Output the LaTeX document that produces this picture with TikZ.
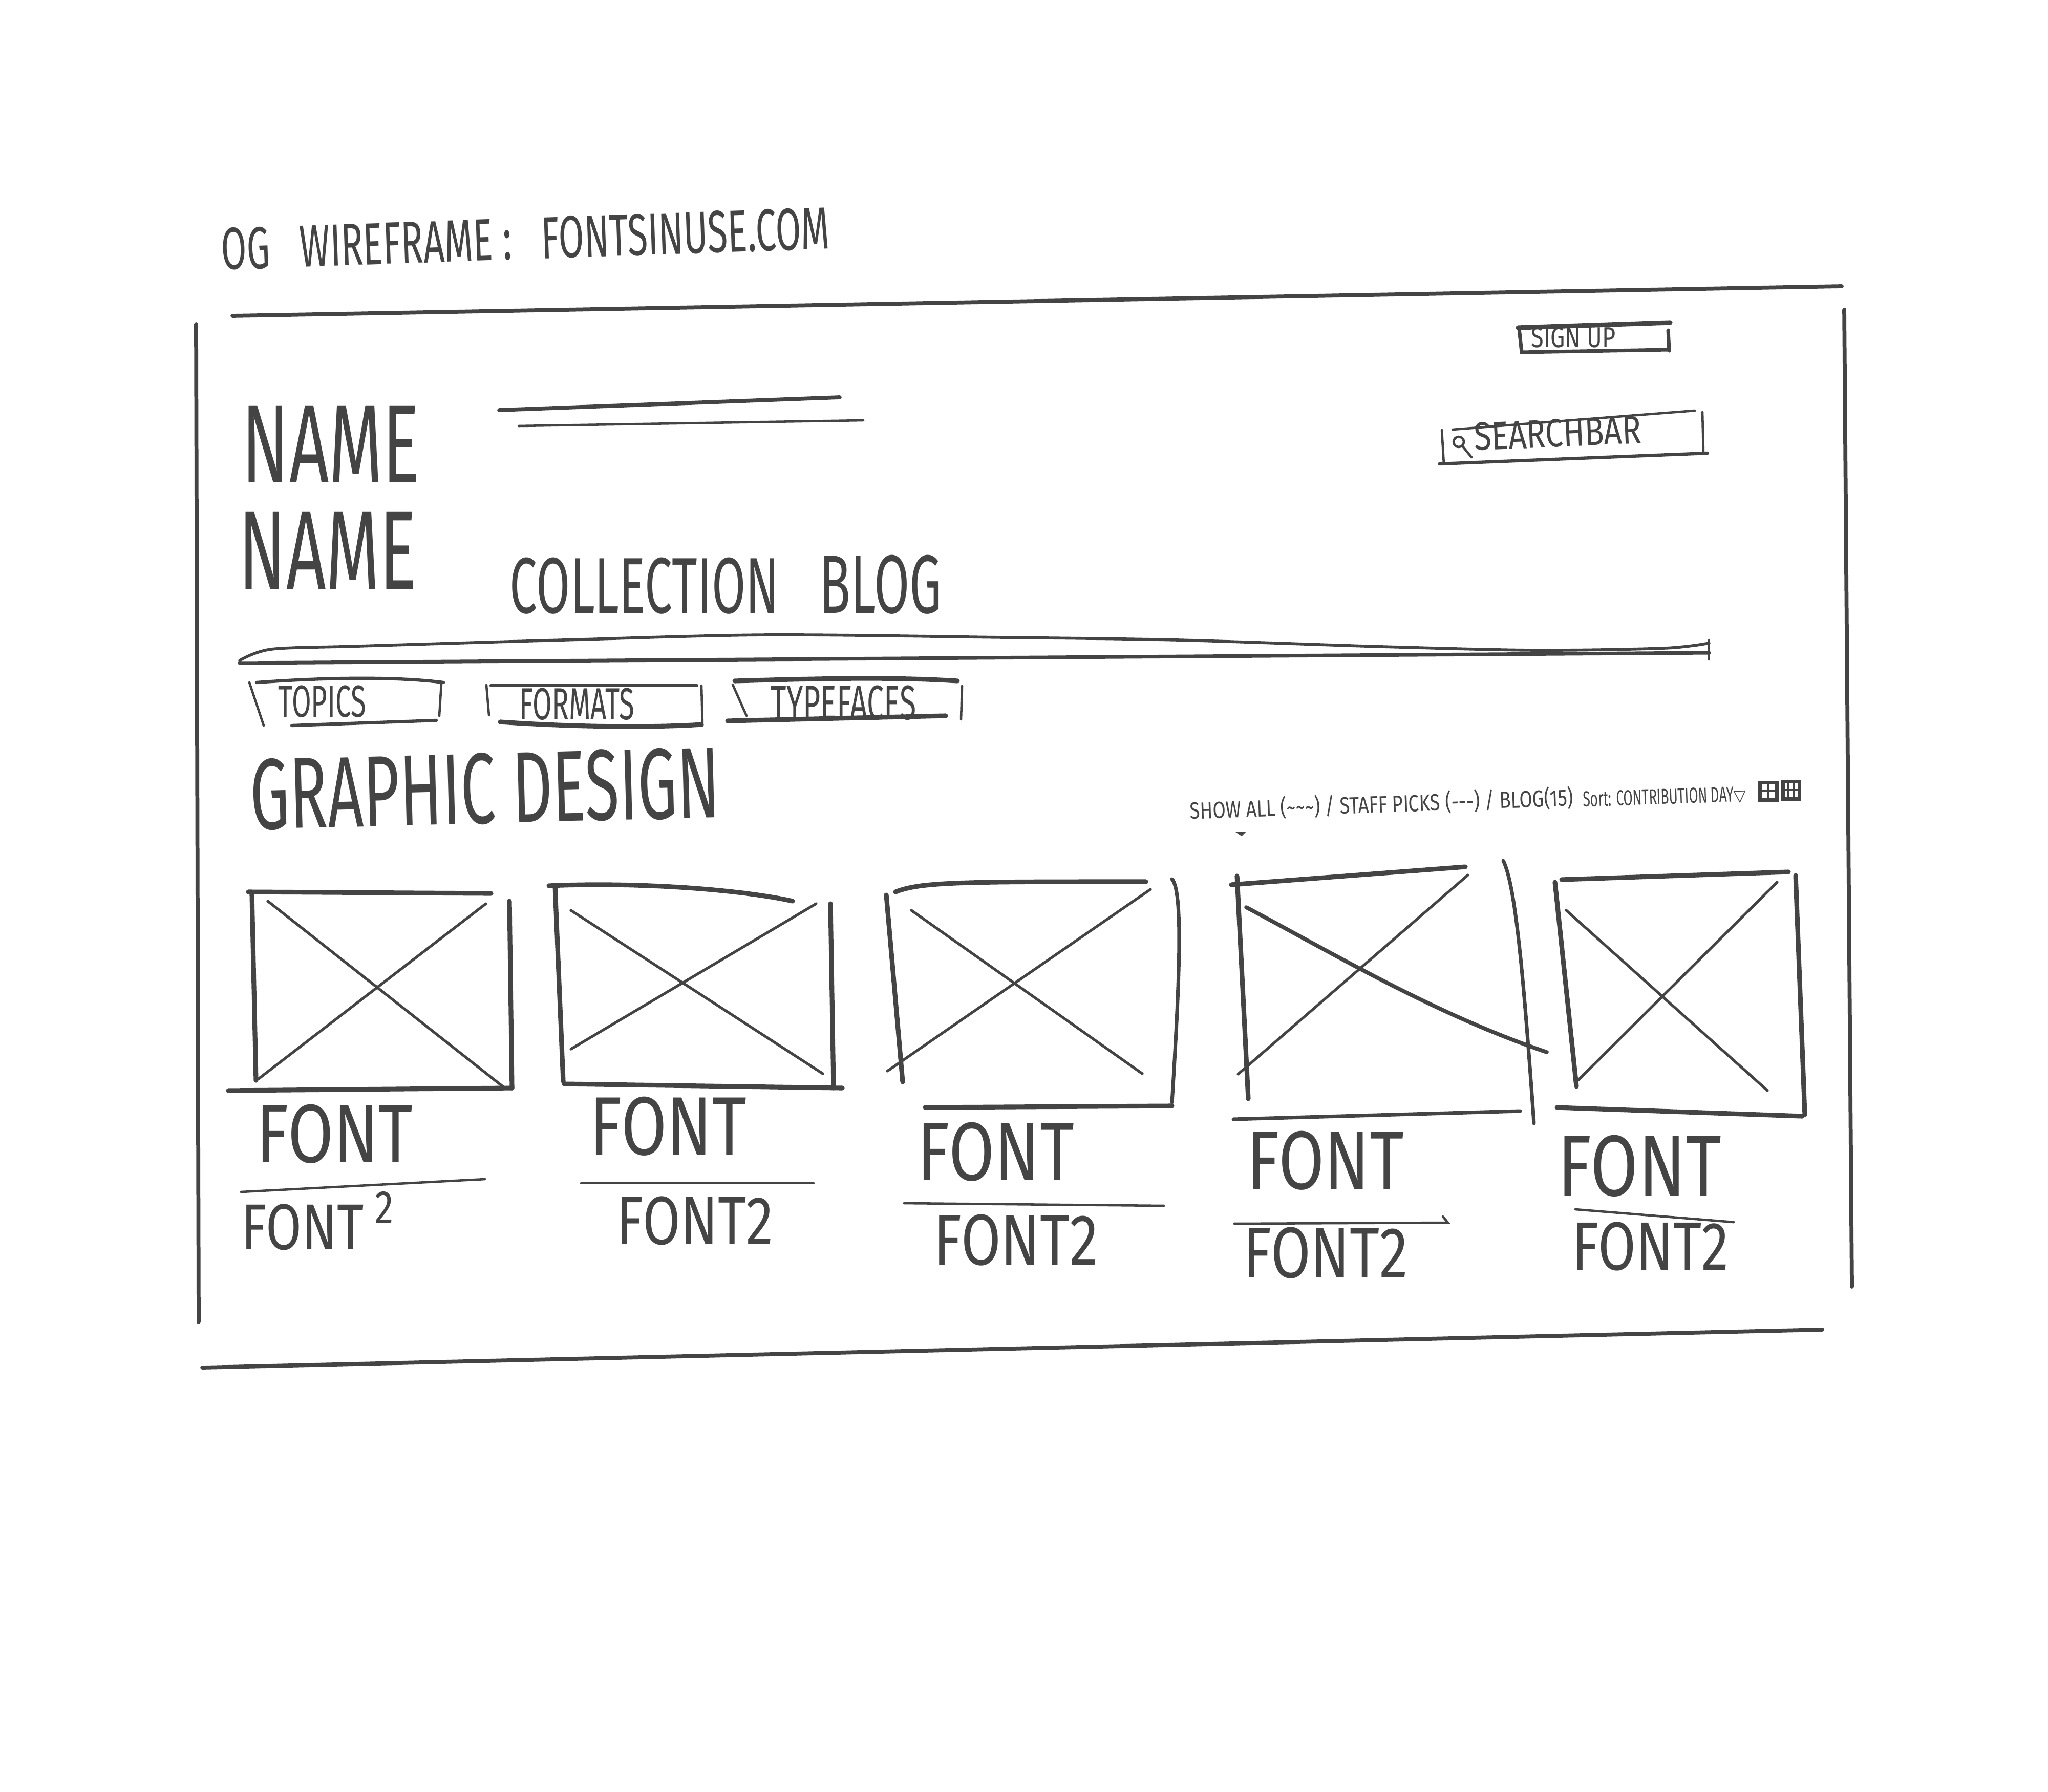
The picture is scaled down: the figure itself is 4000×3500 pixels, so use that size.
\documentclass[tikz,border=0pt]{standalone}
\usepackage{fontspec}
\newfontfamily\handfont[FakeStretch=0.62]{Fira Sans}
\newfontfamily\handwide[FakeStretch=0.8]{Fira Sans}
\newfontfamily\symfont{DejaVu Sans}
\newcommand{\skfont}[1]{\fontsize{#1}{#1}\selectfont}
\definecolor{ink}{HTML}{444444}
\definecolor{paper}{HTML}{FFFFFF}
\tikzset{
  frame/.style={draw=ink, line width=2.2pt, line cap=round, line join=round},
  boxline/.style={draw=ink, line width=2.6pt, line cap=round, line join=round},
  cross/.style={draw=ink, line width=1.5pt, line cap=round},
  rule/.style={draw=ink, line width=1.3pt, line cap=round},
  hand/.style={text=ink, inner sep=0pt, anchor=base west, font=\handfont},
  handw/.style={text=ink, inner sep=0pt, anchor=base west, font=\handwide}
}

\begin{document}
\begin{tikzpicture}[x=0.01cm, y=-0.01cm]
  \fill[paper] (0,0) rectangle (4000,3500);
  \useasboundingbox (0,0) rectangle (4000,3500);

  % title
  \node[hand, rotate=2, font=\handfont\skfont{33}] (title) at (433,527) {OG\enspace WIREFRAME\,:\enspace FONTSINUSE.COM};

  % page frame
  \draw[frame] (454,617) -- (3597,559);
  \draw[frame] (383,633) -- (388,2582);
  \draw[frame] (3602,605) -- (3617,2513);
  \draw[frame] (395,2671) -- (3559,2597);

  % header
  \node[hand, font=\handfont\skfont{62}] (nameA) at (472,942) {NAME};
  \node[hand, font=\handfont\skfont{62}] (nameB) at (466,1150) {NAME};
  \draw[frame] (975,801) -- (1640,776);
  \draw[rule] (1013,832) -- (1686,821);
  \node[hand, font=\handfont\skfont{44}] (collection) at (995,1197) {COLLECTION};
  \node[hand, font=\handfont\skfont{46}] (blog) at (1600,1197) {BLOG};

  % sign up
  \draw[boxline] (2965,640) -- (3262,630);
  \draw[rule, line width=2pt] (2967,642) -- (2972,688) -- (3257,683);
  \draw[rule, line width=2pt] (3258,645) -- (3260,685);
  \node[handw, font=\handwide\skfont{16}] (signup) at (2990,678) {SIGN UP};

  % search bar
  \draw[rule] (2837,839) -- (3310,802);
  \draw[rule] (2816,840) -- (2820,907);
  \draw[rule] (3325,805) -- (3327,885);
  \draw[rule, line width=1.8pt] (2811,906) -- (3335,885);
  \draw[rule] (2849,863) circle (10);
  \draw[rule] (2857,872) -- (2874,893);
  \node[handw, rotate=2.5, font=\handwide\skfont{22}] (search) at (2880,880) {SEARCHBAR};

  % separator
  \draw[rule, line width=2pt] (468,1295) -- (3338,1275);
  \draw[rule, line width=1.6pt] plot[smooth] coordinates {(468,1290) (530,1268) (700,1262) (1100,1250) (1500,1240) (1960,1245) (2300,1250) (2700,1263) (3000,1270) (3250,1266) (3338,1256)};
  \draw[rule] (3338,1250) -- (3338,1288);

  % tabs
  \draw[rule] (487,1333) -- (515,1417);
  \draw[rule, line width=1.8pt] (501,1333) .. controls (650,1322) and (780,1322) .. (866,1333);
  \draw[rule] (862,1335) -- (858,1398);
  \draw[rule, line width=1.8pt] (570,1417) -- (852,1407);
  \node[hand, font=\handfont\skfont{25}] (topics) at (543,1400) {TOPICS};

  \draw[rule] (950,1338) -- (955,1397);
  \draw[rule, line width=1.8pt] (959,1339) -- (1361,1339);
  \draw[rule] (1370,1339) -- (1372,1417);
  \draw[boxline] (977,1410) .. controls (1150,1422) and (1300,1420) .. (1370,1415);
  \node[hand, font=\handfont\skfont{25}] (formats) at (1014,1405) {FORMATS};

  \draw[rule] (1431,1337) -- (1458,1398);
  \draw[boxline] (1435,1330) .. controls (1600,1325) and (1750,1322) .. (1870,1330);
  \draw[rule] (1879,1340) -- (1877,1405);
  \draw[boxline] (1421,1408) -- (1847,1398);
  \node[hand, font=\handfont\skfont{27}] (typefaces) at (1505,1405) {TYPEFACES};

  % section heading and filters
  \node[hand, rotate=1.5, font=\handfont\skfont{56}] (section) at (490,1620) {GRAPHIC DESIGN};
  \node[handw, rotate=2, font=\handwide\skfont{13}] (filters) at (2324,1600) {SHOW ALL (\textasciitilde\textasciitilde\textasciitilde) / STAFF PICKS (---) / BLOG(15)};
  \node[hand, rotate=2, font=\handfont\skfont{12}] (sortby) at (3092,1576) {Sort: CONTRIBUTION DAY{\symfont\skfont{9}▽}};
  \fill[ink] (2413,1625) -- (2433,1625) -- (2425,1633) -- cycle;
  \draw[rule, line width=2pt] (3437,1528) rectangle (3470,1562);
  \draw[rule] (3453,1528) -- (3453,1562) (3437,1545) -- (3470,1545);
  \draw[rule, line width=2pt] (3482,1526) rectangle (3514,1560);
  \draw[rule] (3493,1526) -- (3493,1560) (3503,1526) -- (3503,1560) (3482,1543) -- (3514,1543);

  % card 1
  \draw[boxline] (485,1742) -- (959,1745);
  \draw[boxline] (492,1747) -- (500,2110);
  \draw[boxline] (995,1760) -- (1000,2125);
  \draw[boxline] (446,2130) -- (1000,2125);
  \draw[cross] (523,1760) -- (982,2122);
  \draw[cross] (505,2107) -- (949,1765);
  \node[handw, font=\handwide\skfont{46}] (fontA) at (500,2270) {FONT};
  \draw[rule] (471,2328) -- (947,2303);
  \node[handw, font=\handwide\skfont{36}] (fontTwoA) at (471,2440) {FONT\,{\skfont{26}\raisebox{0.55em}{2}}};

  % card 2
  \draw[boxline] (1072,1730) .. controls (1250,1722) and (1450,1738) .. (1548,1760);
  \draw[boxline] (1084,1730) -- (1100,2112);
  \draw[boxline] (1622,1765) -- (1628,2125);
  \draw[boxline] (1102,2117) -- (1645,2125);
  \draw[cross] (1115,1778) -- (1607,2097);
  \draw[cross] (1115,2049) -- (1594,1765);
  \node[handw, font=\handwide\skfont{46}] (fontB) at (1151,2255) {FONT};
  \draw[rule] (1135,2311) -- (1589,2311);
  \node[handw, font=\handwide\skfont{38}] (fontTwoB) at (1204,2430) {FONT2};

  % card 3
  \draw[boxline] (1749,1742) .. controls (1800,1722) and (1880,1722) .. (2238,1722);
  \draw[boxline] (1731,1748) -- (1763,2113);
  \draw[rule, line width=2pt] (2289,1717) .. controls (2310,1740) and (2305,1900) .. (2289,2153);
  \draw[boxline] (1807,2163) -- (2289,2160);
  \draw[cross] (1780,1778) -- (2231,2097);
  \draw[cross] (1733,2092) -- (2247,1737);
  \node[handw, font=\handwide\skfont{46}] (fontC) at (1791,2305) {FONT};
  \draw[rule] (1766,2350) -- (2273,2355);
  \node[handw, font=\handwide\skfont{40}] (fontTwoC) at (1823,2470) {FONT2};

  % card 4
  \draw[boxline] (2405,1728) -- (2862,1693);
  \draw[boxline] (2416,1711) -- (2438,2146);
  \draw[rule, line width=2pt] (2936,1681) .. controls (2960,1730) and (2975,1900) .. (2996,2194);
  \draw[rule, line width=2pt] (2409,2186) -- (2969,2170);
  \draw[cross, line width=2.2pt] (2434,1772) .. controls (2600,1860) and (2800,1980) .. (3021,2055);
  \draw[cross] (2418,2098) -- (2867,1709);
  \node[handw, font=\handwide\skfont{46}] (fontD) at (2435,2322) {FONT};
  \draw[rule] (2411,2390) -- (2828,2388) -- (2818,2376);
  \node[handw, font=\handwide\skfont{40}] (fontTwoD) at (2428,2495) {FONT2};

  % card 5
  \draw[boxline] (3050,1718) -- (3493,1703);
  \draw[boxline] (3507,1710) -- (3525,2177);
  \draw[boxline] (3037,1723) -- (3079,2122);
  \draw[boxline] (3041,2163) -- (3520,2180);
  \draw[cross] (3059,1778) -- (3452,2130);
  \draw[cross] (3082,2110) -- (3471,1723);
  \node[handw, font=\handwide\skfont{48}] (fontE) at (3042,2335) {FONT};
  \draw[rule] (3077,2362) -- (3386,2387);
  \node[handw, font=\handwide\skfont{38}] (fontTwoE) at (3070,2480) {FONT2};
\end{tikzpicture}
\end{document}
